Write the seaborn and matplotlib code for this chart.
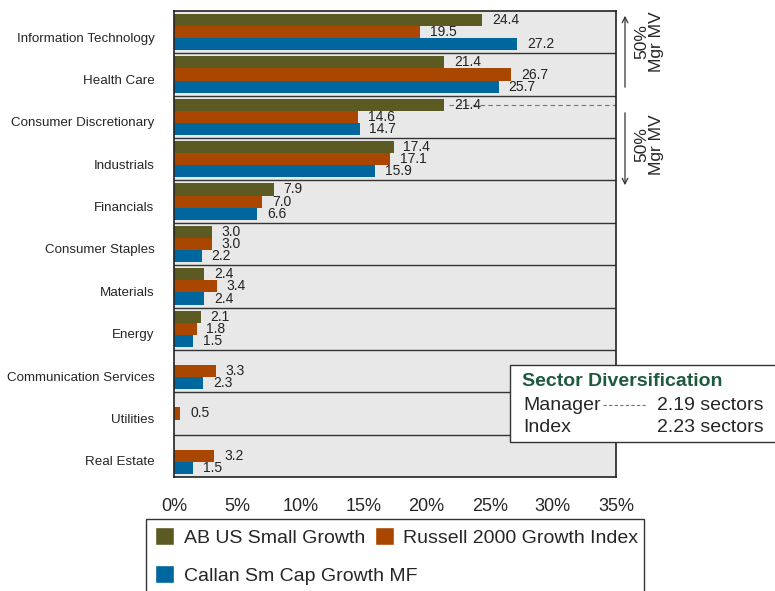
import matplotlib
matplotlib.use("Agg")
import matplotlib.pyplot as plt
import matplotlib.patches as mpatches
import matplotlib.transforms as mtransforms
import numpy as np
import pandas as pd
import seaborn as sns

# Data
sectors = ["Information Technology", "Health Care", "Consumer Discretionary", "Industrials",
           "Financials", "Consumer Staples", "Materials", "Energy",
           "Communication Services", "Utilities", "Real Estate"]
ab_small = [24.4, 21.4, 21.4, 17.4, 7.9, 3.0, 2.4, 2.1, np.nan, np.nan, np.nan]
russell = [19.5, 26.7, 14.6, 17.1, 7.0, 3.0, 3.4, 1.8, 3.3, 0.5, 3.2]
callan = [27.2, 25.7, 14.7, 15.9, 6.6, 2.2, 2.4, 1.5, 2.3, np.nan, 1.5]
series_names = ["AB US Small Growth", "Russell 2000 Growth Index", "Callan Sm Cap Growth MF"]
colors = ["#5B5A23", "#A94700", "#00669E"]
x_ticks = [0, 5, 10, 15, 20, 25, 30, 35]

rows = []
for name, vals in zip(series_names, [ab_small, russell, callan]):
    for s, v in zip(sectors, vals):
        rows.append({"Sector": s, "Series": name, "Value": v})
df = pd.DataFrame(rows).dropna()

sns.set_style("white")
plt.rcParams["font.family"] = ["Liberation Sans", "DejaVu Sans"]

H = 591
W = 775
fig = plt.figure(figsize=(7.75, 5.91), dpi=100)
ax = fig.add_axes([174 / W, 1 - 477 / H, 442 / W, 466 / H])
ax.set_facecolor("#E8E8E8")

sns.barplot(data=df, y="Sector", x="Value", hue="Series", order=sectors,
            hue_order=series_names, palette=colors, width=0.86, orient="h",
            saturation=1, legend=False, linewidth=0, ax=ax)

for cont in ax.containers:
    ax.bar_label(cont, fmt="%.1f", padding=7, fontsize=10, color="#222222")

# separators between sectors
for i in range(len(sectors) - 1):
    ax.axhline(i + 0.5, color="#333333", linewidth=1)

# dashed line from Consumer Discretionary manager bar
cd_idx = sectors.index("Consumer Discretionary")
for p in ax.containers[0].patches:
    yc = p.get_y() + p.get_height() / 2
    if abs(yc - cd_idx) < 0.5:
        ax.plot([p.get_width() + 0.4, 35], [yc, yc], linestyle=(0, (4, 3)),
                color="#7A7A45", linewidth=0.8, zorder=1)

ax.set_xlim(0, 35)
ax.set_ylim(len(sectors) - 0.5, -0.5)
ax.set_xticks(x_ticks)
ax.set_xticklabels([f"{t}%" for t in x_ticks], fontsize=13)
ax.tick_params(axis="x", direction="out", length=8, width=1, color="#333333", pad=7)
ax.tick_params(axis="y", length=0, pad=14, labelsize=9.6)
# sector names sit a little below the band centre in the reference
shift = mtransforms.ScaledTranslation(0, -5 / 100, fig.dpi_scale_trans)
for lbl in ax.get_yticklabels():
    lbl.set_transform(lbl.get_transform() + shift)
ax.set_xlabel("")
ax.set_ylabel("")
for sp in ax.spines.values():
    sp.set_color("#222222")
    sp.set_linewidth(1.2)

# 50% Mgr MV arrows
ax.annotate("", xy=(625, H - 13), xytext=(625, H - 90), xycoords="figure pixels",
            arrowprops=dict(arrowstyle="->", color="#333333", lw=0.9))
ax.annotate("", xy=(625, H - 188), xytext=(625, H - 110), xycoords="figure pixels",
            arrowprops=dict(arrowstyle="->", color="#333333", lw=0.9))
fig.text(649 / W, 1 - 42 / H, "50%\nMgr MV", rotation=90, ha="center", va="center",
         fontsize=12.5, linespacing=0.95)
fig.text(649 / W, 1 - 145 / H, "50%\nMgr MV", rotation=90, ha="center", va="center",
         fontsize=12.5, linespacing=0.95)

# Sector Diversification box
box = mpatches.Rectangle((510 / W, 1 - 442 / H), 0.4, 77 / H, transform=fig.transFigure,
                         facecolor="white", edgecolor="#333333", linewidth=1, clip_on=False)
fig.patches.append(box)
fig.text(522 / W, 1 - 381 / H, "Sector Diversification", fontsize=14, fontweight="bold",
         color="#1E5B3E", va="center")
fig.text(523 / W, 1 - 405 / H, "Manager", fontsize=14, va="center")
fig.text(523 / W, 1 - 427 / H, "Index", fontsize=14, va="center")
fig.text(657 / W, 1 - 405 / H, "2.19 sectors", fontsize=14, va="center")
fig.text(657 / W, 1 - 427 / H, "2.23 sectors", fontsize=14, va="center")
fig.lines.append(plt.Line2D([603 / W, 647 / W], [1 - 405 / H, 1 - 405 / H],
                            transform=fig.transFigure, linestyle=(0, (3, 2)),
                            color="#7A7A45", linewidth=0.8))

# legend: frame plus two rows laid out like the reference
handles = [mpatches.Patch(facecolor=c, label=n) for c, n in zip(colors, series_names)]
frame = mpatches.Rectangle((146 / W, -0.05), 498 / W, (H - 519) / H + 0.05,
                           transform=fig.transFigure, facecolor="white",
                           edgecolor="#333333", linewidth=1, clip_on=False)
fig.patches.append(frame)
leg_kw = dict(loc="center left", fontsize=14, frameon=False, handlelength=1.0,
              handleheight=1.0, handletextpad=0.47, columnspacing=0.5,
              borderpad=0, borderaxespad=0)
fig.legend(handles=handles[:2], ncol=2, bbox_to_anchor=(155 / W, 1 - 537 / H), **leg_kw)
fig.legend(handles=handles[2:], ncol=1, bbox_to_anchor=(155 / W, 1 - 575 / H), **leg_kw)

fig.savefig("out.png", dpi=100)
